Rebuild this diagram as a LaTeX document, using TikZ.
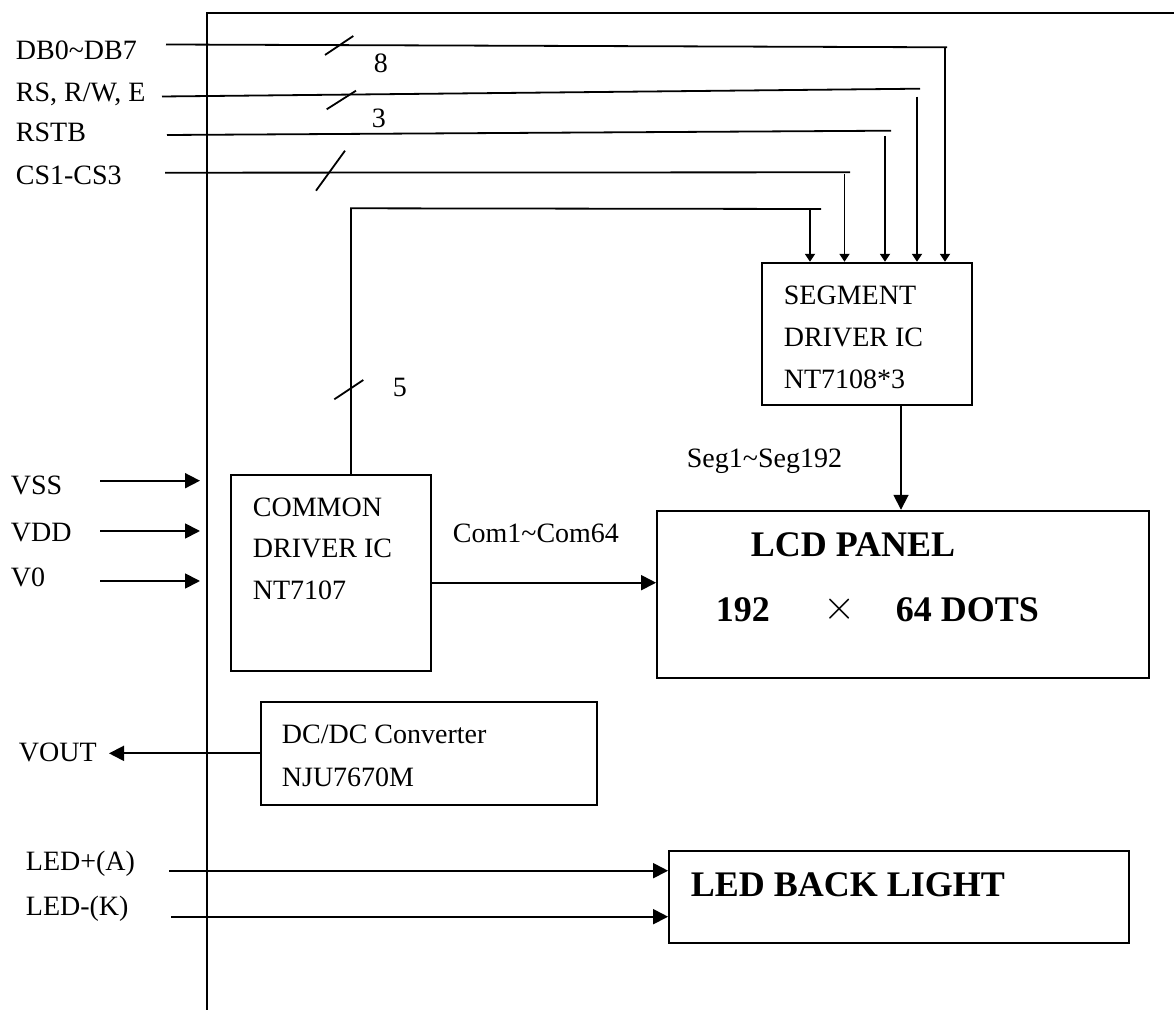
\documentclass[tikz,border=0pt]{standalone}
\usepackage{fontspec}
\setmainfont{Liberation Serif}
\usetikzlibrary{arrows.meta,fit}

\begin{document}
\begin{tikzpicture}[x=0.5pt,y=-0.5pt,line width=0.9pt,>={Triangle[length=7.5pt,width=7.5pt]},
  lbl/.style={inner sep=0pt,anchor=base west,font=\fontsize{14}{16}\selectfont},
  big/.style={inner sep=0pt,anchor=base west,font=\fontsize{18}{20}\selectfont\bfseries},
  blk/.style={draw,inner sep=0pt},
  tip/.style={-{Triangle[length=4pt,width=5pt]}}]
\useasboundingbox (0,0) rectangle (1174,1010);
% module outline
\draw (1174,12.7) -- (207,12.7) -- (207,1010);
% blocks
\node[blk,fit={(762.3,262.7) (972.3,405)}] (seg) {};
\node[blk,fit={(230.7,475) (431,671)}] (com) {};
\node[blk,fit={(657,510.7) (1149,678.3)}] (lcd) {};
\node[blk,fit={(261,701.7) (597,805)}] (dc) {};
\node[blk,fit={(669,850.7) (1129,942.7)}] (bl) {};
\foreach \t [count=\i from 0] in {SEGMENT,DRIVER IC,NT7108*3}
  \node[lbl] (seg-\i) at (783,305+41.6*\i) {\t};
\foreach \t [count=\i from 0] in {COMMON,DRIVER IC,NT7107}
  \node[lbl] (com-\i) at (252,516.7+41.2*\i) {\t};
\node[lbl] (dc-0) at (281,743) {DC/DC Converter};
\node[lbl] (dc-1) at (281,786) {NJU7670M};
\node[big] (lcd-0) at (750,557) {LCD PANEL};
\node[big] (lcd-1) at (715,621.7) {192};
\node[inner sep=0pt,font=\fontsize{20}{20}\selectfont] (lcd-x) at (840,609) {$\times$};
\node[big] (lcd-2) at (895,621.7) {64 DOTS};
\node[big] (bl-0) at (690,896.7) {LED BACK LIGHT};
% pins on the left
\foreach \n/\t/\x/\y in {db/DB0\textasciitilde DB7/15/59.3,rs/{RS, R/W, E}/15/102,rstb/RSTB/15/141.7,
    cs/CS1-CS3/15/185,vss/VSS/10/495,vdd/VDD/10/542,vzero/V0/10/587}
  \node[lbl] (\n) at (\x,\y) {\t};
\node[lbl] (vout) at (18,761.7) {VOUT};
\node[lbl] (ledp) at (25,870.7) {LED+(A)};
\node[lbl] (ledk) at (25,915) {LED-(K)};
% bus lines into the segment drivers
\foreach \n/\xa/\ya/\xb/\yb/\xc/\yc in {db/166/44.5/947/47.3/945/47.3,rs/162/96.5/920/88.7/917/96.7,
    rstb/167/135/891/130.7/885/136,cs/165/172.7/850/172.3/844.5/174}{
  \coordinate (\n-a) at (\xa,\ya);
  \coordinate (\n-b) at (\xb,\yb);
  \coordinate (\n-c) at (\xc,\yc);
  \draw (\n-a) -- (\n-b);
  \draw[tip] (\n-c) -- (\n-c |- seg.north);
}
\coordinate (cm-a) at (351,208.3);
\coordinate (cm-b) at (821,209);
\coordinate (cm-c) at (810,209);
\draw (cm-a |- com.north) -- (cm-a) -- (cm-b);
\draw[tip] (cm-c) -- (cm-c |- seg.north);
% bus width marks
\draw (325,55) -- (353.3,36);
\draw (326.7,109.3) -- (356,90.7);
\draw (316,190.7) -- (345,150.7);
\draw (334.3,399.3) -- (363.3,380);
\node[lbl] (w8) at (373,73) {8};
\node[lbl] (w3) at (371,128) {3};
\node[lbl] (w5) at (392,396.7) {5};
% supplies
\foreach \n/\y in {vss/480.7,vdd/531,vzero/581}{
  \coordinate (\n-a) at (100,\y);
  \draw[->] (\n-a) -- (200,\y);
}
\coordinate (vout-b) at (109,0 |- dc.west);
\draw[->] (dc.west) -- (vout-b);
% drive lines to the panel
\draw[->] (com.east |- 0,582.7) -- (lcd.west |- 0,582.7);
\node[lbl] (comlab) at (452,543) {Com1\textasciitilde Com64};
\draw[->] (901,0 |- seg.south) -- (901,0 |- lcd.north);
\node[lbl] (seglab) at (686,468) {Seg1\textasciitilde Seg192};
% backlight
\coordinate (ledp-a) at (169,870.7);
\coordinate (ledk-a) at (171,916.7);
\draw[->] (ledp-a) -- (bl.west |- ledp-a);
\draw[->] (ledk-a) -- (bl.west |- ledk-a);
\end{tikzpicture}
\end{document}
